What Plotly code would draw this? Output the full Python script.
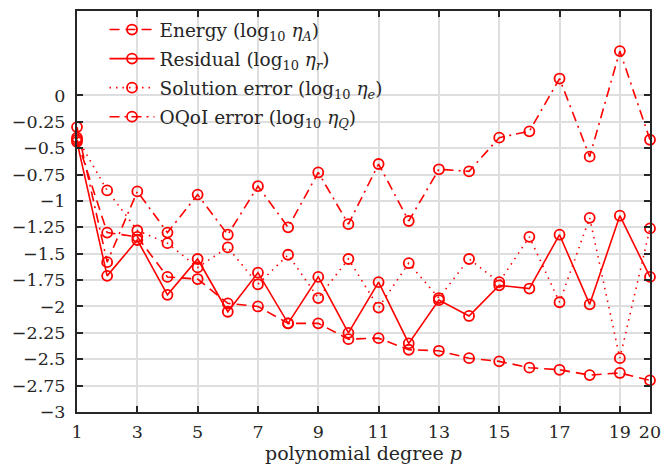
import plotly.graph_objects as go

# polynomial degree
p = list(range(1, 21))

# log10 of the error estimators / errors
energy = [-0.42, -1.30, -1.34, -1.72, -1.74, -1.97, -2.00, -2.16, -2.16, -2.31,
          -2.30, -2.41, -2.42, -2.49, -2.52, -2.58, -2.60, -2.65, -2.63, -2.70]
residual = [-0.44, -1.71, -1.37, -1.89, -1.55, -2.05, -1.68, -2.16, -1.72, -2.25,
            -1.77, -2.35, -1.94, -2.09, -1.80, -1.83, -1.32, -1.98, -1.14, -1.72]
solution = [-0.40, -0.90, -1.28, -1.40, -1.63, -1.44, -1.79, -1.51, -1.92, -1.55,
            -2.01, -1.59, -1.92, -1.55, -1.77, -1.34, -1.96, -1.16, -2.49, -1.26]
oqoi = [-0.30, -1.58, -0.91, -1.30, -0.94, -1.32, -0.86, -1.25, -0.73, -1.22,
        -0.65, -1.19, -0.70, -0.72, -0.40, -0.34, 0.16, -0.58, 0.42, -0.42]

names = [
    "Energy (log<sub>10</sub> <i>η<sub>A</sub></i>)",
    "Residual (log<sub>10</sub> <i>η<sub>r</sub></i>)",
    "Solution error (log<sub>10</sub> <i>η<sub>e</sub></i>)",
    "OQoI error (log<sub>10</sub> <i>η<sub>Q</sub></i>)",
]
dashes = ["10px,6px", "solid", "1.5px,5px", "10px,5px,2px,5px"]

x_ticks = [1, 3, 5, 7, 9, 11, 13, 15, 17, 19, 20]
y_ticks = [0, -0.25, -0.5, -0.75, -1, -1.25, -1.5, -1.75, -2, -2.25, -2.5, -2.75, -3]
y_ticktext = ["0", "−0.25", "−0.5", "−0.75", "−1", "−1.25", "−1.5", "−1.75",
              "−2", "−2.25", "−2.5", "−2.75", "−3"]

RED = "#ff0000"
INK = "#262626"
FONT = "'DejaVu Serif', serif"

fig = go.Figure()
for i, (ys, name, dash) in enumerate(zip([energy, residual, solution, oqoi], names, dashes)):
    fig.add_trace(go.Scatter(
        x=p, y=ys, name=name, mode="lines+markers", legendgroup=f"g{i}",
        line=dict(color=RED, width=1.6, dash=dash),
        marker=dict(symbol="circle-open", size=10, color=RED,
                    line=dict(color=RED, width=1.8)),
        cliponaxis=False,
    ))

axis_common = dict(
    showline=True, linecolor=INK, linewidth=2, mirror="ticks",
    ticks="inside", ticklen=6, tickwidth=2, tickcolor=INK,
    showgrid=True, gridcolor="#dedede", gridwidth=1.5,
    zeroline=False,
    tickfont=dict(family=FONT, size=17.5, color=INK),
)

fig.update_layout(
    width=670, height=468,
    margin=dict(l=77, r=9, t=10, b=56),
    paper_bgcolor="white", plot_bgcolor="white",
    font=dict(family=FONT, color=INK),
    showlegend=True,
    legend=dict(
        x=0.048, y=1.0, xanchor="left", yanchor="top",
        bgcolor="rgba(0,0,0,0)", borderwidth=0,
        font=dict(family=FONT, size=18.5, color=INK),
        itemwidth=45, tracegroupgap=2,
    ),
    xaxis=dict(
        range=[1, 20], tickvals=x_ticks, ticklabelstandoff=3,
        ticklabeloverflow="allow",
        title=dict(text="polynomial degree <i>p</i>", standoff=2,
                   font=dict(family=FONT, size=19, color=INK)),
        **axis_common,
    ),
    yaxis=dict(
        range=[-3, 0.8], tickvals=y_ticks, ticktext=y_ticktext,
        ticklabelstandoff=6,
        **axis_common,
    ),
)

fig.write_html("out.html")
